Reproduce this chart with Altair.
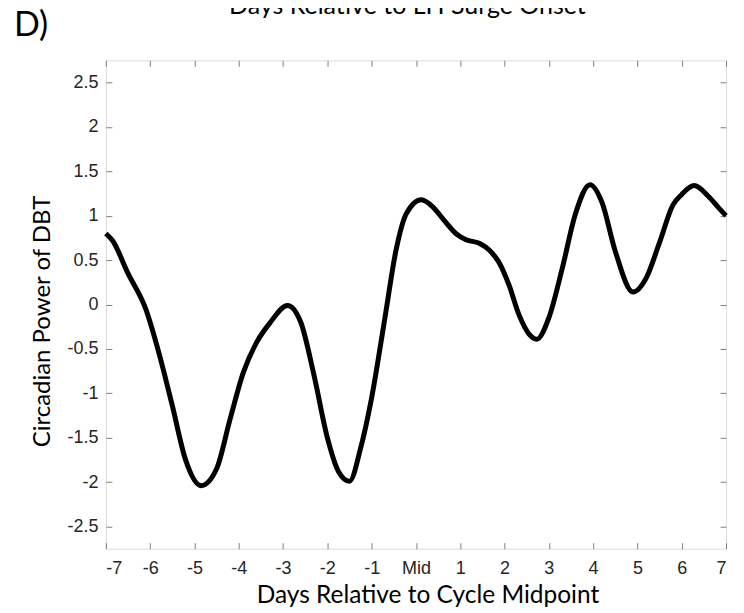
import altair as alt
import pandas as pd

# curve
day = [-7.0, -6.85, -6.5, -6.1, -5.8, -5.5, -5.2, -4.85, -4.5, -4.2, -3.9, -3.6, -3.3,
       -2.9, -2.6, -2.3, -2.0, -1.75, -1.5, -1.25, -1.0, -0.7, -0.45, -0.22, 0.12, 0.38,
       0.6, 0.9, 1.13, 1.43, 1.66, 1.88, 2.1, 2.33, 2.55, 2.73, 3.0, 3.3, 3.6, 3.93, 4.2,
       4.5, 4.9, 5.2, 5.5, 5.8, 6.0, 6.28, 6.6, 6.85, 7.0]
power = [0.80, 0.72, 0.35, -0.05, -0.55, -1.14, -1.75, -2.04, -1.85, -1.30, -0.77, -0.43,
         -0.21, -0.01, -0.20, -0.80, -1.50, -1.88, -1.99, -1.62, -1.05, -0.15, 0.61, 1.02,
         1.18, 1.10, 0.97, 0.80, 0.73, 0.69, 0.61, 0.47, 0.22, -0.12, -0.33, -0.39, -0.15,
         0.40, 1.02, 1.35, 1.15, 0.60, 0.14, 0.30, 0.70, 1.12, 1.24, 1.34, 1.22, 1.08, 1.00]

x_ticks = [-7, -6, -5, -4, -3, -2, -1, 0, 1, 2, 3, 4, 5, 6, 7]
y_ticks = [-2.5, -2, -1.5, -1, -0.5, 0, 0.5, 1, 1.5, 2, 2.5]
panel_label = "D)"
top_title = "Days Relative to LH Surge Onset"
x_title = "Days Relative to Cycle Midpoint"
y_title = "Circadian Power of DBT"

df = pd.DataFrame({"day": day, "power": power})

GREY = "#808080"
LAB = "#262626"
LF = "Liberation Sans"
TF = "Lato"

xs = alt.Scale(domain=[-7, 7], nice=False, zero=False)
ys = alt.Scale(domain=[-2.75, 2.75], nice=False, zero=False)

x_bottom = alt.Axis(values=x_ticks, orient="bottom", offset=-6, tickSize=6, domain=False,
                    grid=False, tickColor=GREY, labelColor=LAB, labelFont=LF, labelFontSize=18,
                    labelPadding=11,
                    labelExpr="datum.value == 0 ? 'Mid' : '' + datum.value",
                    title=x_title, titleFont=TF, titleFontSize=24.5, titleFontWeight="normal",
                    titleColor="black", titlePadding=6, titleX=322)
y_left = alt.Axis(values=y_ticks, orient="left", offset=-6, tickSize=6, domain=False,
                  grid=False, tickColor=GREY, labelColor=LAB, labelFont=LF, labelFontSize=18,
                  labelPadding=8, labelExpr="'' + datum.value",
                  title=y_title, titleFont=TF, titleFontSize=24,
                  titleFontWeight="normal", titleColor="black", titlePadding=12, titleY=261)
x_top = alt.Axis(values=x_ticks, orient="top", offset=-6, tickSize=6, domain=False,
                 grid=False, tickColor=GREY, labels=False, title=None)
y_right = alt.Axis(values=y_ticks, orient="right", offset=-6, tickSize=6, domain=False,
                   grid=False, tickColor=GREY, labels=False, title=None)

line = alt.Chart(df).mark_line(color="black", strokeWidth=5, interpolate="monotone").encode(
    x=alt.X("day:Q", scale=xs, axis=x_bottom),
    y=alt.Y("power:Q", scale=ys, axis=y_left),
)
frame_axes = alt.Chart(df).mark_line(opacity=0).encode(
    x=alt.X("day:Q", scale=xs, axis=x_top),
    y=alt.Y("power:Q", scale=ys, axis=y_right),
)

lab = alt.Chart(pd.DataFrame({"t": [panel_label]})).mark_text(
    font=TF, fontSize=34, align="left", baseline="alphabetic", color="black"
).encode(text="t:N", x=alt.value(-92), y=alt.value(-24))

ttl = alt.Chart(pd.DataFrame({"t": [top_title]})).mark_text(
    font=TF, fontSize=25, align="center", baseline="alphabetic", color="black"
).encode(text="t:N", x=alt.value(302), y=alt.value(-46))

chart = (
    alt.layer(line, frame_axes, lab, ttl)
    .resolve_axis(x="independent", y="independent")
    .properties(width=621, height=489,
                autosize=alt.AutoSizeParams(type="none"),
                padding={"left": 98, "top": 52, "right": 10, "bottom": 64})
    .configure_view(stroke=GREY, strokeWidth=1.2)
    .configure(background="white")
)

chart.save("out.html", embed_options={"renderer": "svg", "actions": False})
